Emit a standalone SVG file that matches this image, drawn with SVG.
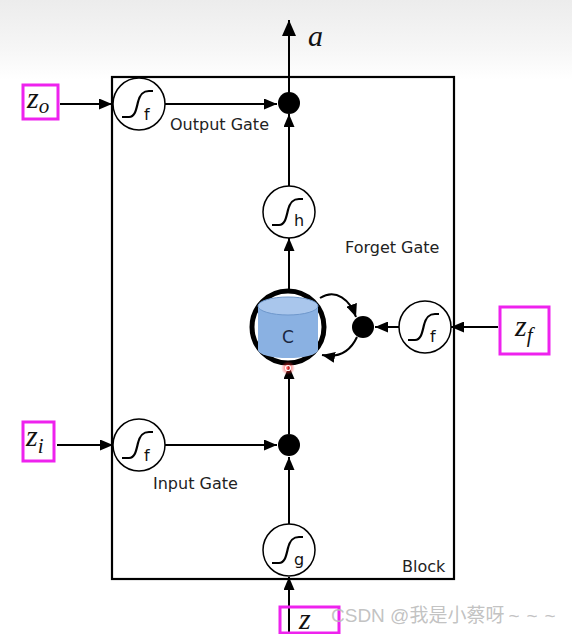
<svg xmlns="http://www.w3.org/2000/svg" width="572" height="634" viewBox="0 0 572 634">
<defs>
<linearGradient id="bg" x1="0" y1="0" x2="0" y2="1">
<stop offset="0" stop-color="#ececec"/>
<stop offset="0.6" stop-color="#f6f6f6"/>
<stop offset="1" stop-color="#ffffff"/>
</linearGradient>
<marker id="ah" viewBox="0 0 10 10" refX="10" refY="5" markerWidth="13" markerHeight="11" markerUnits="userSpaceOnUse" orient="auto" preserveAspectRatio="none">
<path d="M0,0 L10,5 L0,10 z" fill="#000"/>
</marker>
<marker id="ahb" viewBox="0 0 10 10" refX="10" refY="5" markerWidth="16" markerHeight="14" markerUnits="userSpaceOnUse" orient="auto" preserveAspectRatio="none">
<path d="M0,0 L10,5 L0,10 z" fill="#000"/>
</marker>
<g id="sig">
<circle r="26" fill="#fff" stroke="#000" stroke-width="1.5"/>
<path d="M-17,13 L-10,13 C-4,13 -3,6 -1,-2 C1,-10 4,-13 10,-13 L14,-13" fill="none" stroke="#000" stroke-width="2.2"/>
</g>
<radialGradient id="rd">
<stop offset="0" stop-color="#ff3030" stop-opacity="0.9"/>
<stop offset="1" stop-color="#ff3030" stop-opacity="0"/>
</radialGradient>
</defs>
<style>
.ln{stroke:#000;stroke-width:2;fill:none}
.lbl{font-family:"DejaVu Sans",sans-serif;font-size:16px;fill:#222}
.sub{font-family:"DejaVu Sans",sans-serif;font-size:16px;fill:#111}
.math{font-family:"Liberation Serif",serif;font-style:italic;font-size:30px;fill:#111}
.box{fill:none;stroke:#ee22ee;stroke-width:3}
</style>
<rect width="572" height="634" fill="#fff"/>
<rect width="572" height="80" fill="url(#bg)"/>

<g id="block">
<rect x="112" y="77" width="342" height="502" fill="none" stroke="#000" stroke-width="2.2"/>
<text class="lbl" x="402" y="572">Block</text>
</g>

<g id="connectors">
<line class="ln" x1="289" y1="103" x2="289" y2="20" marker-end="url(#ahb)"/>
<line class="ln" x1="60" y1="104" x2="112" y2="104" marker-end="url(#ah)"/>
<line class="ln" x1="165" y1="104" x2="277" y2="104" marker-end="url(#ah)"/>
<line class="ln" x1="289" y1="186" x2="289" y2="114" marker-end="url(#ah)"/>
<line class="ln" x1="289" y1="290" x2="289" y2="238" marker-end="url(#ah)"/>
<line class="ln" x1="498" y1="327" x2="451" y2="327" marker-end="url(#ah)"/>
<line class="ln" x1="399" y1="327" x2="375" y2="327" marker-end="url(#ah)"/>
<path class="ln" d="M320,298 C336,288 350,300 356,317" stroke-width="1.6" marker-end="url(#ah)"/>
<path class="ln" d="M357,337 C350,352 338,358 322,355" stroke-width="1.6" marker-end="url(#ah)"/>
<line class="ln" x1="57" y1="445" x2="113" y2="445" marker-end="url(#ah)"/>
<line class="ln" x1="165" y1="445" x2="277" y2="445" marker-end="url(#ah)"/>
<line class="ln" x1="289" y1="434" x2="289" y2="366" marker-end="url(#ah)"/>
<line class="ln" x1="289" y1="524" x2="289" y2="457" marker-end="url(#ah)"/>
<line class="ln" x1="289" y1="634" x2="289" y2="577" marker-end="url(#ah)"/>
</g>

<g id="out_a"><text class="math" x="308" y="46">a</text></g>

<g id="zo">
<rect class="box" x="23" y="85" width="35" height="34"/>
<text class="math" x="27" y="108">z<tspan font-size="21" dy="5">o</tspan></text>
</g>
<g id="output_gate">
<use href="#sig" x="139" y="104"/>
<text class="sub" x="144" y="120">f</text>
<text class="lbl" x="170" y="130">Output Gate</text>
</g>
<g id="output_mult"><circle cx="289" cy="103" r="11" fill="#000"/></g>

<g id="h_node">
<use href="#sig" x="289" y="212"/>
<text class="sub" x="294" y="226">h</text>
</g>
<g id="forget_label"><text class="lbl" x="345" y="253">Forget Gate</text></g>

<g id="cell">
<circle cx="288" cy="327" r="36" fill="#fff" stroke="#000" stroke-width="5"/>
<path d="M258,306 L258,350 A30,8 0 0 0 318,350 L318,306 Z" fill="#8ab1e2"/>
<ellipse cx="288" cy="306" rx="30" ry="9" fill="#a9c6ec" stroke="#6f98cc" stroke-width="1"/>
<text x="288" y="343" text-anchor="middle" font-family="DejaVu Sans,sans-serif" font-size="17" fill="#1a2740">C</text>
<circle cx="288" cy="368" r="7" fill="url(#rd)"/>
<circle cx="288" cy="368" r="2.5" fill="none" stroke="#fff" stroke-width="1.2"/>
</g>

<g id="forget_mult"><circle cx="363" cy="327" r="11" fill="#000"/></g>
<g id="forget_gate">
<use href="#sig" x="425" y="327"/>
<text class="sub" x="430" y="342">f</text>
</g>
<g id="zf">
<rect class="box" x="500" y="307" width="49" height="47"/>
<text class="math" x="515" y="336">z<tspan font-size="21" dy="6">f</tspan></text>
</g>

<g id="zi">
<rect class="box" x="23" y="422" width="31" height="39"/>
<text class="math" x="26" y="446">z<tspan font-size="21" dy="7">i</tspan></text>
</g>
<g id="input_gate">
<use href="#sig" x="139" y="445"/>
<text class="sub" x="144" y="461">f</text>
<text class="lbl" x="153" y="489">Input Gate</text>
</g>
<g id="input_mult"><circle cx="289" cy="445" r="11" fill="#000"/></g>

<g id="g_node">
<use href="#sig" x="289" y="550"/>
<text class="sub" x="294" y="565">g</text>
</g>

<g id="z">
<rect class="box" x="280" y="607" width="59" height="26"/>
<text class="math" x="299" y="629">z</text>
</g>

<g id="watermark"><text x="331" y="622" font-family="Liberation Sans,Noto Sans CJK SC,sans-serif" font-size="19" fill="#bbb" fill-opacity="0.9">CSDN @我是小蔡呀<tspan letter-spacing="7" dx="4">~~~</tspan></text></g>
</svg>
